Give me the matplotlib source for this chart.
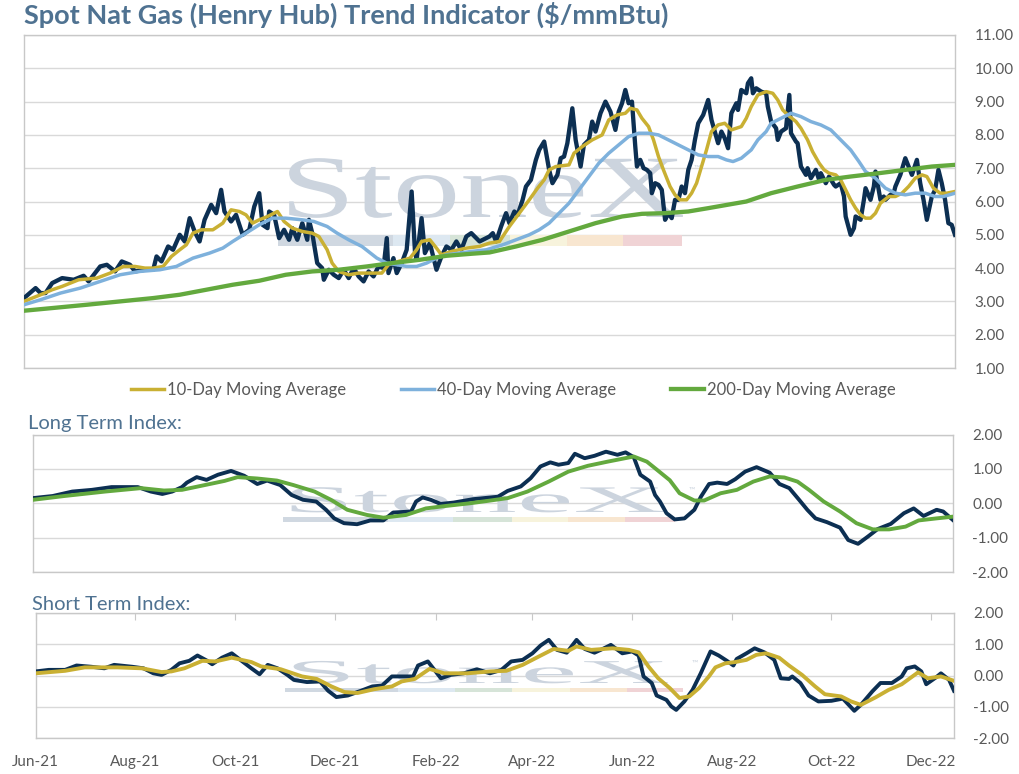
import numpy as np
import matplotlib
matplotlib.use('Agg')
import matplotlib.pyplot as plt
import matplotlib.dates as mdates
import matplotlib.patheffects as pe
from matplotlib.transforms import Affine2D
from matplotlib.patches import Rectangle

plt.rcParams['font.family'] = ['Lato', 'DejaVu Sans']

# -------------------------------- Data ----------------
START = np.datetime64('2021-06-01')
END_DAY = 562                                   # last plotted day (mid Dec-22)

# spot Henry Hub price, $/mmBtu (days since 1 Jun 2021)
spot_day = [0, 7, 10, 13, 17, 23, 30, 36, 39, 46,
            50, 55, 59, 64, 67, 73, 78, 80, 83, 87,
            90, 94, 97, 100, 103, 106, 109, 113, 116, 119,
            121, 125, 128, 132, 136, 139, 142, 144, 147, 148,
            151, 154, 157, 160, 162, 165, 168, 171, 172, 174,
            177, 180, 181, 184, 187, 190, 193, 196, 199, 202,
            205, 208, 211, 214, 217, 219, 220, 223, 225, 228,
            231, 234, 236, 237, 240, 242, 245, 249, 252, 255,
            258, 261, 264, 267, 270, 275, 279, 281, 283, 285,
            288, 291, 293, 296, 298, 301, 303, 306, 309, 311,
            314, 317, 319, 322, 324, 326, 328, 331, 333, 336,
            338, 341, 343, 345, 348, 351, 354, 357, 359, 361,
            363, 365, 367, 369, 370, 372, 374, 376, 378, 379,
            381, 383, 385, 387, 389, 391, 393, 395, 397, 399,
            401, 403, 405, 407, 410, 413, 415, 417, 419, 421,
            423, 425, 427, 430, 431, 433, 436, 437, 439, 440,
            442, 445, 448, 449, 451, 454, 455, 457, 460, 462,
            463, 466, 467, 469, 472, 473, 475, 478, 480, 481,
            484, 486, 489, 490, 493, 495, 496, 499, 501, 502,
            505, 507, 508, 511, 513, 514, 517, 519, 520, 523,
            525, 526, 529, 532, 534, 536, 539, 541, 543, 545,
            548, 550, 552, 554, 556, 558, 560, 562]
spot = [3.10, 3.40, 3.25, 3.25, 3.55, 3.70, 3.65, 3.77, 3.60, 4.05,
        4.10, 3.90, 4.20, 4.10, 3.90, 3.95, 3.95, 4.35, 4.20, 4.65,
        4.55, 5.00, 4.80, 5.50, 5.10, 4.80, 5.45, 5.90, 5.65, 6.35,
        5.70, 5.40, 5.60, 5.00, 5.15, 5.85, 6.25, 5.30, 5.20, 5.70,
        5.60, 4.90, 5.15, 4.85, 5.20, 4.85, 5.35, 4.85, 5.45, 5.05,
        4.15, 4.00, 3.65, 3.95, 3.80, 3.70, 3.95, 3.70, 4.00, 3.75,
        3.60, 3.90, 3.75, 4.05, 4.00, 4.90, 3.85, 4.30, 3.85, 4.15,
        4.55, 6.30, 4.50, 4.25, 5.50, 4.45, 4.75, 3.95, 4.35, 4.65,
        4.55, 4.80, 4.55, 4.95, 5.05, 4.80, 4.90, 4.95, 5.05, 4.80,
        5.25, 5.65, 5.35, 5.70, 5.60, 6.05, 6.45, 6.65, 7.25, 7.55,
        7.80, 6.95, 6.55, 6.80, 7.30, 7.35, 7.75, 8.80, 7.85, 7.05,
        7.70, 7.85, 8.40, 8.10, 8.65, 9.00, 8.70, 8.15, 8.70, 8.95,
        9.35, 8.95, 9.00, 7.65, 7.05, 7.25, 7.00, 6.95, 6.85, 6.25,
        6.55, 6.50, 6.35, 5.45, 5.65, 5.50, 6.05, 6.05, 6.45, 6.25,
        6.95, 7.25, 7.85, 8.35, 8.60, 9.05, 8.45, 8.10, 7.75, 8.10,
        7.90, 7.60, 8.65, 8.95, 8.75, 9.35, 9.25, 9.55, 9.70, 9.25,
        9.40, 9.30, 9.25, 8.85, 8.40, 8.20, 7.85, 8.10, 8.20, 9.20,
        8.05, 7.80, 7.75, 7.05, 6.80, 7.00, 6.70, 6.95, 6.65, 6.85,
        6.55, 6.75, 6.50, 6.45, 6.55, 6.15, 5.55, 5.00, 5.20, 5.55,
        5.45, 6.05, 6.40, 6.05, 6.45, 6.90, 6.05, 6.15, 6.05, 6.20,
        6.25, 6.45, 6.80, 7.30, 7.05, 6.80, 7.25, 6.55, 6.05, 5.45,
        6.15, 6.35, 6.95, 6.55, 6.05, 5.35, 5.30, 5.00]

ma10_day = [0, 10, 17, 23, 33, 44, 52, 60, 67, 73,
            78, 84, 89, 94, 98, 102, 107, 114, 120, 125,
            130, 134, 138, 142, 147, 153, 157, 162, 168, 174,
            178, 183, 186, 190, 196, 202, 208, 216, 220, 226,
            233, 237, 240, 245, 249, 252, 258, 267, 275, 281,
            287, 293, 299, 305, 310, 314, 317, 321, 329, 332,
            337, 343, 349, 353, 358, 363, 366, 370, 373, 377,
            380, 383, 386, 390, 393, 396, 400, 403, 406, 409,
            412, 415, 419, 423, 427, 433, 436, 439, 443, 448,
            452, 455, 458, 461, 466, 469, 473, 476, 480, 483,
            486, 490, 493, 496, 499, 502, 505, 508, 511, 514,
            517, 522, 526, 530, 534, 538, 542, 545, 549, 553,
            557, 562]
ma10 = [3.00, 3.20, 3.35, 3.45, 3.65, 3.70, 3.85, 4.05, 4.05, 4.00,
        4.00, 4.05, 4.35, 4.55, 4.70, 5.05, 5.15, 5.15, 5.35, 5.75,
        5.70, 5.60, 5.35, 5.45, 5.55, 5.70, 5.40, 5.20, 5.10, 5.05,
        4.95, 4.55, 4.15, 3.90, 3.80, 3.85, 3.85, 3.85, 4.10, 4.20,
        4.30, 4.55, 4.80, 4.85, 4.60, 4.40, 4.50, 4.60, 4.65, 4.75,
        4.80, 5.25, 5.65, 6.05, 6.40, 6.65, 6.95, 7.05, 7.10, 7.45,
        7.65, 7.85, 8.00, 8.45, 8.60, 8.65, 8.80, 8.75, 8.50, 8.25,
        7.85, 7.35, 6.95, 6.45, 6.20, 6.05, 6.05, 6.25, 6.55, 7.05,
        7.55, 8.10, 8.30, 8.35, 8.15, 8.25, 8.50, 8.85, 9.20, 9.30,
        9.25, 9.05, 8.75, 8.60, 8.40, 8.20, 7.85, 7.50, 7.15, 6.95,
        6.85, 6.80, 6.65, 6.35, 6.05, 5.80, 5.60, 5.50, 5.50, 5.65,
        5.95, 6.15, 6.15, 6.25, 6.45, 6.70, 6.80, 6.75, 6.40, 6.25,
        6.25, 6.30]

ma40_day = [0, 10, 22, 34, 46, 58, 70, 82, 92, 102,
            112, 120, 126, 134, 142, 150, 158, 168, 175, 183,
            189, 196, 204, 213, 219, 225, 231, 237, 243, 249,
            255, 263, 270, 279, 289, 297, 305, 311, 317, 323,
            329, 335, 341, 347, 353, 359, 365, 371, 377, 383,
            389, 395, 401, 407, 413, 419, 424, 428, 433, 439,
            443, 448, 451, 457, 463, 469, 475, 481, 487, 493,
            499, 504, 508, 514, 520, 526, 532, 538, 544, 550,
            555, 562]
ma40 = [2.90, 3.05, 3.25, 3.40, 3.60, 3.80, 3.90, 3.95, 4.05, 4.30,
        4.45, 4.60, 4.80, 5.05, 5.30, 5.50, 5.50, 5.45, 5.40, 5.25,
        5.05, 4.85, 4.65, 4.30, 4.15, 4.10, 4.05, 4.05, 4.15, 4.30,
        4.40, 4.45, 4.50, 4.55, 4.70, 4.85, 5.00, 5.15, 5.35, 5.65,
        5.95, 6.35, 6.75, 7.15, 7.45, 7.70, 7.95, 8.05, 8.05, 8.00,
        7.85, 7.70, 7.55, 7.40, 7.35, 7.35, 7.25, 7.20, 7.30, 7.55,
        7.85, 8.10, 8.35, 8.50, 8.65, 8.55, 8.40, 8.30, 8.15, 7.85,
        7.55, 7.20, 6.90, 6.70, 6.40, 6.25, 6.20, 6.25, 6.25, 6.15,
        6.15, 6.25]

ma200_day = [0, 17, 38, 58, 78, 94, 110, 126, 142, 158,
             174, 190, 207, 222, 239, 255, 270, 281, 297, 313,
             329, 345, 361, 373, 387, 401, 413, 436, 451, 467,
             484, 499, 516, 532, 548, 562]
ma200 = [2.72, 2.80, 2.90, 3.00, 3.10, 3.20, 3.35, 3.50, 3.62, 3.80,
         3.90, 3.95, 4.05, 4.15, 4.25, 4.37, 4.43, 4.47, 4.65, 4.85,
         5.10, 5.35, 5.55, 5.63, 5.65, 5.70, 5.80, 6.00, 6.25, 6.45,
         6.65, 6.75, 6.85, 6.95, 7.05, 7.10]

# long term index and its average
lt_day = [0, 12, 24, 36, 48, 64, 72, 79, 85, 91,
          94, 100, 106, 113, 121, 129, 137, 143, 151, 158,
          165, 173, 179, 184, 190, 198, 206, 214, 220, 231,
          234, 238, 243, 249, 257, 269, 280, 284, 290, 298,
          304, 310, 316, 321, 327, 331, 337, 343, 350, 357,
          362, 367, 371, 377, 380, 383, 387, 392, 398, 404,
          408, 413, 418, 424, 429, 435, 442, 450, 456, 462,
          468, 473, 478, 485, 493, 498, 504, 510, 516, 524,
          532, 538, 544, 552, 556, 562]
lt_idx = [0.15, 0.21, 0.34, 0.39, 0.47, 0.47, 0.34, 0.27, 0.34, 0.47,
          0.60, 0.76, 0.68, 0.83, 0.94, 0.80, 0.56, 0.66, 0.53, 0.24,
          0.10, 0.05, -0.19, -0.44, -0.58, -0.61, -0.50, -0.50, -0.27, -0.24,
          0.05, 0.17, 0.10, -0.02, 0.02, 0.12, 0.17, 0.19, 0.36, 0.49,
          0.73, 1.07, 1.19, 1.12, 1.17, 1.44, 1.31, 1.38, 1.50, 1.41,
          1.48, 1.34, 0.83, 0.63, 0.24, 0.05, -0.29, -0.47, -0.44, -0.19,
          0.19, 0.56, 0.60, 0.56, 0.70, 0.92, 1.05, 0.89, 0.56, 0.44,
          0.10, -0.19, -0.44, -0.55, -0.71, -1.07, -1.18, -0.97, -0.75, -0.60,
          -0.29, -0.15, -0.37, -0.19, -0.24, -0.49]
ltm_day = [0, 19, 44, 66, 80, 91, 105, 117, 125, 137,
           149, 159, 172, 182, 192, 204, 214, 228, 240, 252,
           267, 278, 290, 302, 315, 327, 339, 351, 367, 375,
           381, 389, 395, 404, 410, 420, 430, 440, 450, 459,
           467, 474, 483, 493, 503, 513, 523, 533, 541, 552,
           562]
ltm = [0.10, 0.21, 0.34, 0.44, 0.37, 0.39, 0.53, 0.65, 0.76, 0.72,
       0.66, 0.53, 0.34, 0.10, -0.19, -0.34, -0.42, -0.34, -0.15, -0.08,
       0.00, 0.07, 0.15, 0.34, 0.63, 0.92, 1.09, 1.21, 1.36, 1.21,
       0.98, 0.67, 0.29, 0.08, 0.08, 0.29, 0.39, 0.63, 0.78, 0.75,
       0.63, 0.39, 0.05, -0.24, -0.58, -0.76, -0.76, -0.68, -0.50, -0.44,
       -0.39]

# short term index and its average
st_day = [0, 8, 18, 25, 34, 42, 48, 59, 66, 72,
          77, 83, 88, 94, 99, 105, 108, 114, 120, 126,
          132, 137, 142, 148, 154, 158, 166, 174, 179, 184,
          191, 199, 206, 212, 218, 226, 231, 234, 240, 244,
          248, 254, 262, 270, 278, 285, 291, 298, 304, 309,
          314, 319, 325, 331, 336, 342, 347, 352, 359, 365,
          369, 372, 377, 380, 386, 389, 392, 397, 402, 407,
          413, 418, 423, 427, 429, 435, 440, 446, 452, 456,
          461, 463, 468, 473, 479, 487, 494, 501, 505, 512,
          517, 524, 530, 533, 538, 542, 545, 551, 554, 559,
          562]
st_idx = [0.13, 0.18, 0.18, 0.32, 0.28, 0.23, 0.34, 0.28, 0.23, 0.07,
          0.02, 0.18, 0.39, 0.47, 0.64, 0.47, 0.36, 0.57, 0.71, 0.47,
          0.23, 0.04, 0.34, 0.23, 0.02, -0.14, -0.21, -0.19, -0.49, -0.69,
          -0.64, -0.49, -0.35, -0.32, -0.03, -0.03, -0.03, 0.32, 0.45, 0.18,
          -0.09, 0.02, 0.07, 0.20, 0.07, 0.18, 0.45, 0.50, 0.71, 0.96,
          1.14, 0.82, 0.73, 1.14, 0.85, 0.73, 0.85, 0.98, 0.71, 0.77,
          0.64, -0.03, -0.24, -0.64, -0.78, -0.99, -1.10, -0.83, -0.46, 0.07,
          0.77, 0.64, 0.47, 0.32, 0.53, 0.71, 0.87, 0.74, 0.50, -0.09,
          -0.11, -0.03, -0.24, -0.64, -0.83, -0.81, -0.74, -1.13, -0.94, -0.51,
          -0.24, -0.24, -0.03, 0.23, 0.29, 0.13, -0.28, -0.06, 0.07, -0.14,
          -0.49]
stm_day = [0, 18, 30, 50, 65, 77, 83, 91, 102, 110,
           120, 132, 138, 150, 163, 172, 181, 189, 197, 207,
           218, 224, 232, 241, 250, 264, 278, 288, 298, 308,
           317, 326, 331, 340, 353, 363, 369, 375, 381, 388,
           394, 400, 406, 412, 416, 422, 428, 435, 441, 447,
           455, 461, 469, 477, 483, 493, 499, 505, 514, 522,
           530, 540, 546, 554, 562]
stm = [0.07, 0.15, 0.26, 0.26, 0.23, 0.11, 0.13, 0.23, 0.47, 0.45,
       0.57, 0.43, 0.29, 0.20, -0.03, -0.11, -0.35, -0.53, -0.56, -0.44,
       -0.35, -0.19, -0.11, 0.21, 0.07, 0.07, 0.13, 0.15, 0.34, 0.61,
       0.85, 0.79, 0.93, 0.82, 0.87, 0.82, 0.74, 0.29, -0.09, -0.40,
       -0.72, -0.67, -0.40, -0.03, 0.26, 0.39, 0.43, 0.50, 0.66, 0.71,
       0.57, 0.32, 0.02, -0.35, -0.60, -0.67, -0.83, -0.94, -0.70, -0.46,
       -0.28, 0.10, -0.09, -0.03, -0.17]

legend_labels = ['10-Day Moving Average', '40-Day Moving Average', '200-Day Moving Average']

# -------------------------------- Style ------------------------------------
NAVY = '#0c2f52'
GOLD = '#c9b033'
LBLUE = '#7eb1dc'
GREEN = '#63a93e'
GRID = '#d9d9d9'
TXT = '#595959'
HEAD = '#4f7291'
WM = '#ccd4de'
BAR_COLORS = ['#d0d8e1', '#dde8f1', '#d6e4d8', '#f7f3dc', '#f8e6d0', '#f0d3d5']


def d(days):
    return START + np.array(days, dtype='timedelta64[D]')


class Stretch(pe.AbstractPathEffect):          # widen the watermark glyphs
    def __init__(self, sx):
        super().__init__()
        self.sx = sx

    def draw_path(self, renderer, gc, tpath, affine, rgbFace=None):
        renderer.draw_path(gc, tpath, Affine2D().scale(self.sx, 1) + affine, rgbFace)


def watermark(ax, x0, base, size, sx, edges, bar_y, bar_h, tm):
    ax.text(x0, base, 'StoneX', transform=ax.transAxes, family='Liberation Serif',
            fontsize=size, color=WM, ha='left', va='baseline', zorder=1,
            path_effects=[Stretch(sx)])
    ax.text(tm[0], tm[1], '™', transform=ax.transAxes, fontsize=6, color=WM,
            ha='center', va='center', zorder=1)
    for a, b, c in zip(edges[:-1], edges[1:], BAR_COLORS):
        ax.add_patch(Rectangle((a, bar_y), b - a, bar_h, transform=ax.transAxes,
                               facecolor=c, lw=0, zorder=1))


def style(ax, lo, hi):
    ax.set_xlim(d([0])[0], d([END_DAY])[0])
    ax.set_ylim(lo, hi)
    ax.set_yticks(np.arange(lo, hi + 1, 1))
    ax.yaxis.set_major_formatter(plt.FormatStrFormatter('%.2f'))
    ax.yaxis.tick_right()
    ax.tick_params(axis='y', length=0, pad=14, labelsize=11, labelcolor=TXT)
    ax.yaxis.grid(True, color=GRID, lw=1)
    ax.set_axisbelow(True)
    for s in ax.spines.values():
        s.set_color('#c8c8c8')
        s.set_linewidth(1)
    ax.tick_params(axis='x', which='both', bottom=False, top=False, labelbottom=False)


# -------------------------------- Figure -----------------------------------
fig = plt.figure(figsize=(10.2, 7.74), dpi=100)
ax1 = fig.add_axes([24 / 1020, 1 - 368 / 774, 931 / 1020, 333 / 774])
ax2 = fig.add_axes([33 / 1020, 1 - 572 / 774, 920 / 1020, 137.5 / 774])
ax3 = fig.add_axes([35.7 / 1020, 1 - 738 / 774, 918.3 / 1020, 125 / 774])

# top panel: spot and moving averages
style(ax1, 1, 11)
watermark(ax1, 0.275, 0.4535, 64, 1.52,
          [0.2728, 0.3963, 0.4576, 0.5220, 0.5833, 0.6434, 0.7068], 0.366, 0.033, (0.723, 0.60))
ax1.plot(d(spot_day), spot, color=NAVY, lw=3.1, zorder=3)
h10, = ax1.plot(d(ma10_day), ma10, color=GOLD, lw=2.5, zorder=4)
h40, = ax1.plot(d(ma40_day), ma40, color=LBLUE, lw=2.5, zorder=4)
h200, = ax1.plot(d(ma200_day), ma200, color=GREEN, lw=3.1, zorder=4)

fig.legend([h10, h40, h200], legend_labels, loc='center', bbox_to_anchor=(0.503, 1 - 390 / 774),
           ncol=3, frameon=False, fontsize=12, handlelength=2.0, handletextpad=0.15,
           columnspacing=3.3, labelcolor=TXT)

# long term index
style(ax2, -2, 2)
watermark(ax2, 0.2717, 0.4364, 27, 3.4,
          [0.2717, 0.3859, 0.4565, 0.5207, 0.5815, 0.6435, 0.6978], 0.3636, 0.036, (0.716, 0.596))
ax2.plot(d(lt_day), lt_idx, color=NAVY, lw=2.8, zorder=3)
ax2.plot(d(ltm_day), ltm, color=GREEN, lw=2.8, zorder=4)

# short term index
style(ax3, -2, 2)
watermark(ax3, 0.2715, 0.44, 24, 3.85,
          [0.2715, 0.3946, 0.4566, 0.5187, 0.5818, 0.6439, 0.7049], 0.368, 0.032, (0.718, 0.60))
ax3.plot(d(st_day), st_idx, color=NAVY, lw=2.8, zorder=3)
ax3.plot(d(stm_day), stm, color=GOLD, lw=2.8, zorder=4)

ticks = np.arange('2021-06', '2023-01', 2, dtype='datetime64[M]').astype('datetime64[D]')
ax3.set_xticks(ticks)
ax3.xaxis.set_major_formatter(mdates.DateFormatter('%b-%y'))
ax3.tick_params(axis='x', bottom=False, top=True, direction='in', length=5, color='#c8c8c8',
                labelbottom=True, labeltop=False, labelsize=11, labelcolor=TXT, pad=12)

# titles
fig.text(24 / 1020, 1 - 15 / 774, 'Spot Nat Gas (Henry Hub) Trend Indicator ($/mmBtu)',
         fontsize=19.5, weight='bold', color=HEAD, ha='left', va='center')
fig.text(28 / 1020, 1 - 424 / 774, 'Long Term Index:', fontsize=14.5, color=HEAD, ha='left', va='center')
fig.text(32 / 1020, 1 - 604 / 774, 'Short Term Index:', fontsize=14.5, color=HEAD, ha='left', va='center')

fig.savefig('out.png', dpi=100)
